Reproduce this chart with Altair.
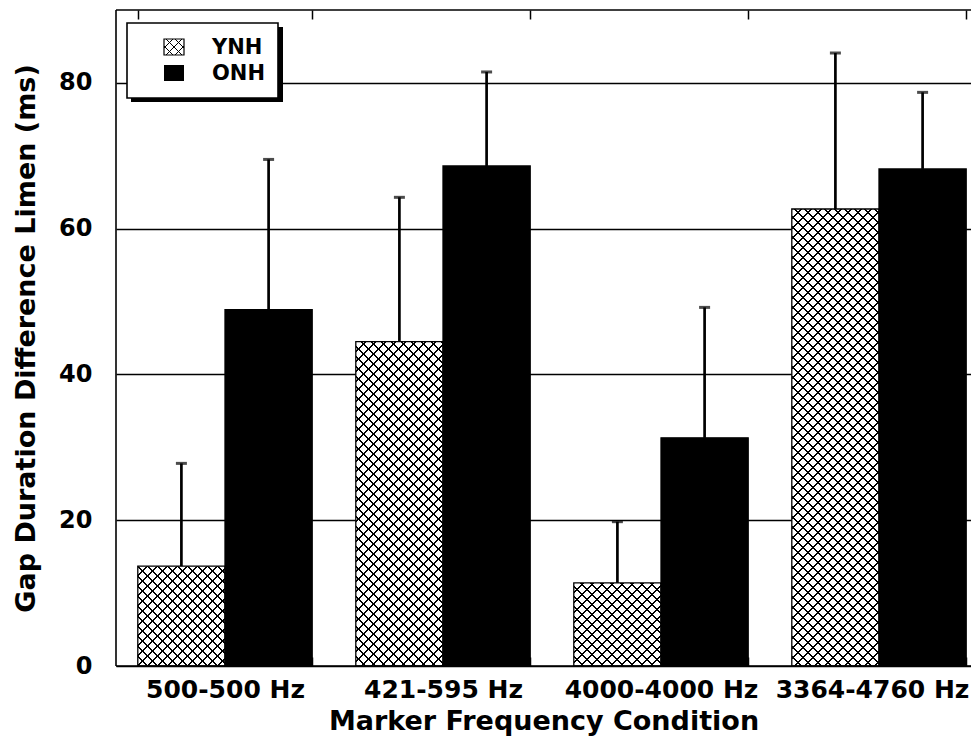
import altair as alt
import pandas as pd

# ---------------- data ----------------
CATEGORIES = ["500-500 Hz", "421-595 Hz", "4000-4000 Hz", "3364-4760 Hz"]
SERIES = ["YNH", "ONH"]
YNH_MEAN = [13.7, 44.5, 11.4, 62.7]
YNH_SD = [14.1, 19.8, 8.4, 21.4]
ONH_MEAN = [48.9, 68.6, 31.3, 68.2]
ONH_SD = [20.6, 12.9, 17.9, 10.5]
Y_TICKS = [0, 20, 40, 60, 80]
Y_MAX = 90
X_TITLE = "Marker Frequency Condition"
Y_TITLE = "Gap Duration Difference Limen (ms)"

# ---------------- layout / style ----------------
PAD_LEFT = 108
PLOT_W = 963 - PAD_LEFT   # visible part of the plot (the original is cropped at the right)
PLOT_H = 656
FONT = "DejaVu Sans"
PAD_INNER = 0.2
STEP_TARGET = 218.0
PAD_OUTER = (PLOT_W / STEP_TARGET - (len(CATEGORIES) - PAD_INNER)) / 2
ALIGN = (0.1 * STEP_TARGET) / (2 * PAD_OUTER * STEP_TARGET)
STEP = PLOT_W / (len(CATEGORIES) - PAD_INNER + 2 * PAD_OUTER)
SUB_W = STEP * (1 - PAD_INNER) / len(SERIES)
CLEAR = "rgba(0,0,0,0)"
TICK = 9
BORDER = 1.6


def hatch(w, h, direction, period=10.0, lw=1.9, phase=0.0):
    """Diagonal stripe gradient (in bounding-box units) giving 45 degree lines."""
    L = w + h
    s = (w + h) * w / (w * w + h * h)
    if direction == "up":
        x1, y1, x2, y2 = 0.0, 0.0, s, s * h / w
    else:
        x1, y1, x2, y2 = 0.0, 1.0, s, 1.0 - s * h / w
    stops = []
    c = phase
    while c - lw / 2 <= L:
        a = max(0.0, (c - lw / 2) / L)
        b = min(1.0, (c + lw / 2) / L)
        stops += [
            alt.GradientStop(offset=round(a, 6), color=CLEAR),
            alt.GradientStop(offset=round(a, 6), color="black"),
            alt.GradientStop(offset=round(b, 6), color="black"),
            alt.GradientStop(offset=round(b, 6), color=CLEAR),
        ]
        c += period
    return alt.LinearGradient(gradient="linear", x1=x1, y1=y1, x2=x2, y2=y2, stops=stops)


rows = []
for i, c in enumerate(CATEGORIES):
    rows.append(dict(cond=c, group=SERIES[0], mean=YNH_MEAN[i], sd=YNH_SD[i]))
    rows.append(dict(cond=c, group=SERIES[1], mean=ONH_MEAN[i], sd=ONH_SD[i]))
df = pd.DataFrame(rows)
df["top"] = df["mean"] + df["sd"]

x_scale = alt.Scale(domain=CATEGORIES, paddingInner=PAD_INNER, paddingOuter=PAD_OUTER, align=ALIGN)
x_bottom = alt.X(
    "cond:N", sort=CATEGORIES, scale=x_scale,
    axis=alt.Axis(
        orient="bottom", offset=-TICK, domain=False, ticks=True, tickSize=TICK, tickWidth=1.5,
        tickColor="black", tickBand="extent", labelFont=FONT, labelFontSize=25,
        labelFontWeight="bold", labelColor="black", labelPadding=11, labelAngle=0,
        labelOverlap=False, labelLimit=0,
        labelOffset={"condition": {"test": f"datum.value === '{CATEGORIES[-1]}'", "value": -7},
                     "value": 0},
        grid=False, title=X_TITLE,
        titleFont=FONT, titleFontSize=27, titleFontWeight="bold", titleColor="black",
        titlePadding=6,
    ),
)
x_top = alt.X(
    "cond:N", sort=CATEGORIES, scale=x_scale,
    axis=alt.Axis(
        orient="top", offset=-TICK, domain=False, ticks=True, tickSize=TICK, tickWidth=1.5,
        tickColor="black", tickBand="extent", labels=False, grid=False, title=None,
    ),
)
x_plain = alt.X("cond:N", sort=CATEGORIES, scale=x_scale, axis=None)
xoff = alt.XOffset("group:N", sort=SERIES, scale=alt.Scale(domain=SERIES))
y_scale = alt.Scale(domain=[0, Y_MAX], nice=False, zero=True)
y_enc = alt.Y(
    "mean:Q", scale=y_scale,
    axis=alt.Axis(
        values=Y_TICKS, grid=True, gridColor="black", gridWidth=1.3, gridOpacity=1,
        domain=False, ticks=False, tickSize=0, labelPadding=24, labelFont=FONT,
        labelFontSize=24, labelFontWeight="bold", labelColor="black",
        title=Y_TITLE, titleFont=FONT, titleFontSize=27, titleFontWeight="bold",
        titleColor="black", titlePadding=18,
    ),
)
y_plain = alt.Y("mean:Q", scale=y_scale)

base = alt.Chart(df)

bars = base.mark_bar(stroke="black", strokeWidth=1.3).encode(
    x=x_bottom,
    xOffset=xoff,
    y=y_enc,
    fill=alt.Fill("group:N", scale=alt.Scale(domain=SERIES, range=["white", "black"]), legend=None),
)

hatch_layers = []
for i, c in enumerate(CATEGORIES):
    h = YNH_MEAN[i] / Y_MAX * PLOT_H
    for d in ("up", "down"):
        hatch_layers.append(
            base.transform_filter(
                (alt.datum.cond == c) & (alt.datum.group == SERIES[0])
            ).mark_bar(fill=hatch(SUB_W, h, d), strokeWidth=0).encode(
                x=x_plain, xOffset=xoff, y=y_plain,
            )
        )

err_rule = base.mark_rule(color="black", strokeWidth=2.7).encode(
    x=x_top,
    xOffset=xoff,
    y=y_plain,
    y2="top:Q",
)
err_cap = base.mark_tick(color="black", size=11, thickness=3, orient="horizontal").encode(
    x=x_plain,
    xOffset=xoff,
    y=alt.Y("top:Q", scale=y_scale),
)

# ---------------- frame (left, top, bottom; right side is cropped away) ----------------
one = alt.Chart(pd.DataFrame({"k": [0]}))
frame_top = one.mark_rule(color="black", strokeWidth=BORDER).encode(
    x=alt.value(0), x2=alt.value(PLOT_W), y=alt.value(0))
frame_bottom = one.mark_rule(color="black", strokeWidth=BORDER).encode(
    x=alt.value(0), x2=alt.value(PLOT_W), y=alt.value(PLOT_H))
frame_left = one.mark_rule(color="black", strokeWidth=BORDER).encode(
    x=alt.value(0), y=alt.value(0), y2=alt.value(PLOT_H))

# ---------------- hand-drawn legend box ----------------
leg0 = alt.Chart(pd.DataFrame({"label": [SERIES[0]]}))
leg1 = alt.Chart(pd.DataFrame({"label": [SERIES[1]]}))
shadow = leg0.mark_rect(fill="black").encode(
    x=alt.value(15), x2=alt.value(167), y=alt.value(17), y2=alt.value(92))
box = leg0.mark_rect(fill="white", stroke="black", strokeWidth=1.6).encode(
    x=alt.value(11), x2=alt.value(162), y=alt.value(13), y2=alt.value(88))
sym0 = leg0.mark_rect(fill="white", stroke="black", strokeWidth=1.2).encode(
    x=alt.value(48), x2=alt.value(68), y=alt.value(29), y2=alt.value(45))
sym0a = leg0.mark_rect(fill=hatch(20, 16, "up", period=9.0, lw=1.4)).encode(
    x=alt.value(48), x2=alt.value(68), y=alt.value(29), y2=alt.value(45))
sym0b = leg0.mark_rect(fill=hatch(20, 16, "down", period=9.0, lw=1.4)).encode(
    x=alt.value(48), x2=alt.value(68), y=alt.value(29), y2=alt.value(45))
sym1 = leg1.mark_rect(fill="black").encode(
    x=alt.value(48), x2=alt.value(68), y=alt.value(55), y2=alt.value(71))
txt0 = leg0.mark_text(align="left", baseline="middle", font=FONT, fontSize=21,
                      fontWeight="bold", color="black").encode(
    x=alt.value(96), y=alt.value(38), text="label:N")
txt1 = leg1.mark_text(align="left", baseline="middle", font=FONT, fontSize=21,
                      fontWeight="bold", color="black").encode(
    x=alt.value(96), y=alt.value(64), text="label:N")

chart = alt.layer(
    bars, *hatch_layers, err_rule, err_cap,
    frame_top, frame_bottom, frame_left,
    shadow, box, sym0, sym0a, sym0b, sym1, txt0, txt1,
).properties(
    width=PLOT_W, height=PLOT_H,
    autosize=alt.AutoSizeParams(type="none"),
    padding={"left": PAD_LEFT, "top": 2, "right": 0, "bottom": 70},
    background="white",
).configure_view(
    stroke="transparent", strokeWidth=0,
)

chart.save("out.html", embed_options={"renderer": "svg", "actions": False})
